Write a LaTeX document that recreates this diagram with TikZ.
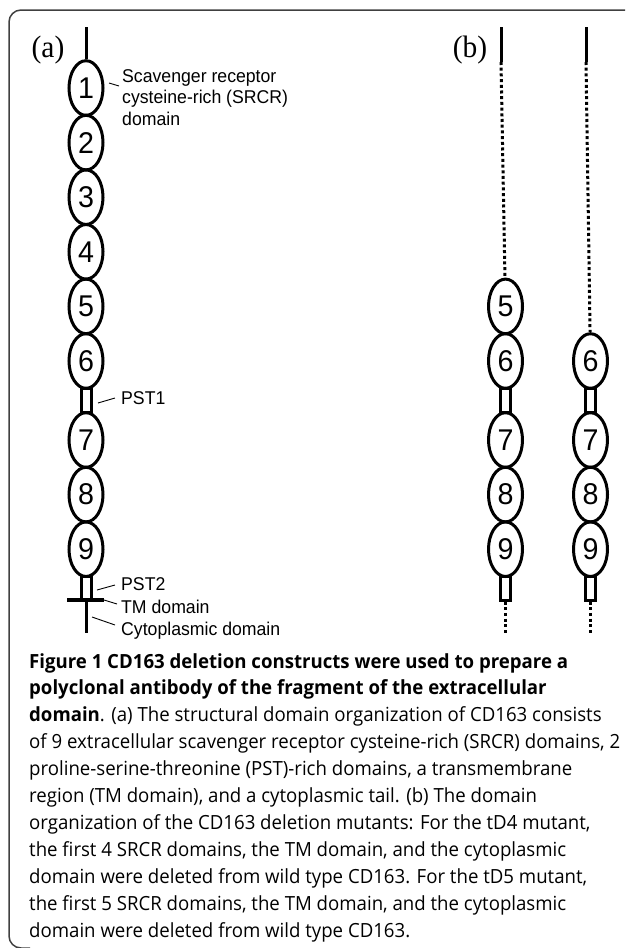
\documentclass[tikz,border=0pt]{standalone}
\usepackage{fontspec}
\newfontfamily\labelfont{Liberation Sans}[FakeStretch=0.955]
\newfontfamily\panelfont{Liberation Serif}[FakeStretch=0.95]
\newfontfamily\capfont{Open Sans}[FakeStretch=0.955]
\usetikzlibrary{shapes.geometric}

\begin{document}
\begin{tikzpicture}[
  x=1pt, y=-1pt,
  srcr/.style={draw, ellipse, line width=3pt, minimum width=34pt,
    minimum height=54.6pt, inner sep=0pt,
    font=\labelfont\fontsize{30}{30}\selectfont},
  pst/.style={draw, rectangle, line width=3pt, minimum width=10pt,
    minimum height=23.5pt, inner sep=0pt},
  stem/.style={line width=3pt},
  deleted/.style={line width=3pt, dash pattern=on 3pt off 2.7pt},
  leader/.style={line width=0.9pt},
  lbl/.style={anchor=base west, inner sep=0pt, align=left,
    font=\labelfont\fontsize{18.5}{21.5}\selectfont},
  panel/.style={inner sep=0pt, font=\panelfont\fontsize{31}{31}\selectfont}
  ]
\useasboundingbox (0,0) rectangle (625,948);
%\draw [ultra thin, lightgray] (0,0) grid[step=50] (625,948);
\draw [line width=1.5pt, black!75, rounded corners=12pt]
  (625,10) -- (9,10) -- (9,948) -- (30,948);
\node [panel] (pa) at (48,50) {(a)};
\node [panel] (pb) at (470,50) {(b)};
% (a) wild type
\node [srcr] (a1) at (86,88) {1};
\node [srcr] (a2) at (86,142.6) {2};
\node [srcr] (a3) at (86,197.2) {3};
\node [srcr] (a4) at (86,251.8) {4};
\node [srcr] (a5) at (86,306.4) {5};
\node [srcr] (a6) at (86,361) {6};
\node [pst] (apst1) at (86,400.5) {};
\node [srcr] (a7) at (86,440) {7};
\node [srcr] (a8) at (86,494.6) {8};
\node [srcr] (a9) at (86,549.2) {9};
\node [pst] (apst2) at (86,588.25) {};
\coordinate (atop) at (86,27);
\coordinate (acyto) at (86,633);
\coordinate (tml) at (67,600);
\coordinate (tmr) at (104,600);
\draw [stem] (atop) -- (a1);
\draw [line width=4pt] (tml) -- (tmr);
\draw [stem] (apst2.south) -- (acyto);
\node [lbl] (srcrlbl) at (122,125) {Scavenger receptor\\cysteine-rich (SRCR)\\domain};
\node [lbl] (pst1lbl) at (121,404) {PST1};
\node [lbl] (pst2lbl) at (121,590) {PST2};
\node [lbl] (tmlbl) at (121,613) {TM domain};
\node [lbl] (cytolbl) at (121,635) {Cytoplasmic domain};
\coordinate (l1) at (109,83);
\coordinate (l2) at (119,86);
\coordinate (l3) at (98,403);
\coordinate (l4) at (115,398);
\coordinate (l5) at (97,590);
\coordinate (l6) at (115,585);
\coordinate (l7) at (104,600);
\coordinate (l8) at (117,604);
\coordinate (l9) at (92,617);
\coordinate (l10) at (115,625);
\draw [leader] (l1) -- (l2);
\draw [leader] (l3) -- (l4);
\draw [leader] (l5) -- (l6);
\draw [leader] (l7) -- (l8);
\draw [leader] (l9) -- (l10);
% (b) tD4
\node [srcr] (b5) at (505.5,306.4) {5};
\node [srcr] (b6) at (505.5,361) {6};
\node [pst] (bpst1) at (505.5,400.5) {};
\node [srcr] (b7) at (505.5,440) {7};
\node [srcr] (b8) at (505.5,494.6) {8};
\node [srcr] (b9) at (505.5,549.2) {9};
\node [pst] (bpst2) at (505.5,588.25) {};
\coordinate (btop) at (501,27);
\coordinate (bcut) at (501,62);
\coordinate (bend) at (505.5,633);
\draw [stem] (btop) -- (bcut);
\draw [deleted] (bcut) -- (b5);
\draw [deleted] (bpst2.south) -- (bend);
% (b) tD5
\node [srcr] (c6) at (590.5,361) {6};
\node [pst] (cpst1) at (590.5,400.5) {};
\node [srcr] (c7) at (590.5,440) {7};
\node [srcr] (c8) at (590.5,494.6) {8};
\node [srcr] (c9) at (590.5,549.2) {9};
\node [pst] (cpst2) at (590.5,588.25) {};
\coordinate (ctop) at (586,27);
\coordinate (ccut) at (586,62);
\coordinate (cend) at (590.5,633);
\draw [stem] (ctop) -- (ccut);
\draw [deleted] (ccut) -- (c6);
\draw [deleted] (cpst2.south) -- (cend);
% caption
\node [anchor=base west, inner sep=0pt, align=left,
  font=\capfont\fontsize{19.5}{26.9}\selectfont] (cap) at (29,937)
  {\textbf{Figure 1 CD163 deletion constructs were used to prepare a}\\
   \textbf{polyclonal antibody of the fragment of the extracellular}\\
   \textbf{domain}. (a) The structural domain organization of CD163 consists\\
   of 9 extracellular scavenger receptor cysteine-rich (SRCR) domains, 2\\
   proline-serine-threonine (PST)-rich domains, a transmembrane\\
   region (TM domain), and a cytoplasmic tail. (b) The domain\\
   organization of the CD163 deletion mutants: For the tD4 mutant,\\
   the first 4 SRCR domains, the TM domain, and the cytoplasmic\\
   domain were deleted from wild type CD163. For the tD5 mutant,\\
   the first 5 SRCR domains, the TM domain, and the cytoplasmic\\
   domain were deleted from wild type CD163.};
\end{tikzpicture}
\end{document}
